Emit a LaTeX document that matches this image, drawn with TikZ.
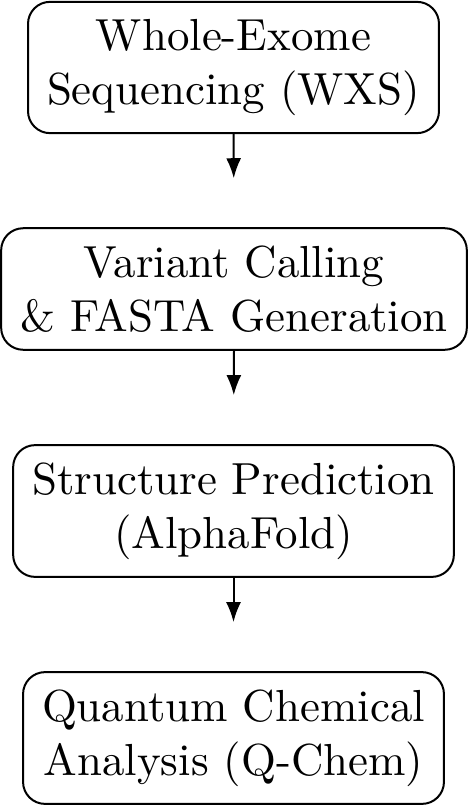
\documentclass[tikz,border=0pt]{standalone}
\usepackage{fontspec}
\setmainfont{lmroman10-regular.otf}
\usetikzlibrary{arrows.meta}
\begin{document}
\begin{tikzpicture}[x=1pt,y=-1pt,
  stepbox/.style={draw, rounded corners=22pt, line width=2pt, align=center,
    inner xsep=19pt, inner ysep=17.5pt, font=\fontsize{44.9}{53.9}\selectfont},
  flow/.style={-{Latex[length=20pt,width=15pt]}, line width=2pt, shorten >=49pt}]
\useasboundingbox (0,0) rectangle (467,806);
\node[stepbox] (a) at (233.5,67.5) {Whole-Exome\\Sequencing (WXS)};
\node[stepbox] (b) at (234,289) {Variant Calling\\\& FASTA Generation};
\node[stepbox] (c) at (233.5,511) {Structure Prediction\\(AlphaFold)};
\node[stepbox] (d) at (233.5,738) {Quantum Chemical\\Analysis (Q-Chem)};
\draw[flow] (a.south) -- (b.north);
\draw[flow] (b.south) -- (c.north);
\draw[flow] (c.south) -- (d.north);
\end{tikzpicture}
\end{document}
